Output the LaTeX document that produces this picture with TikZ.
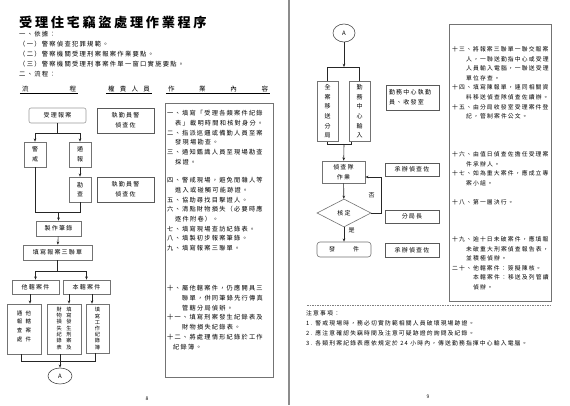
\documentclass[tikz,border=0pt]{standalone}
\usepackage{fontspec}
\setmainfont{Noto Sans CJK TC}
\newfontfamily\cjk{Noto Sans CJK TC}[LetterSpace=20]
\usetikzlibrary{
  arrows.meta,
  positioning,
  shapes.geometric,
  calc
}

\tikzset{
  flowbox/.style={draw=black!55, line width=0.6pt, inner sep=0pt, align=center,
    font=\cjk\fontsize{6}{9.6}\selectfont},
  dutybox/.style={draw=black!65, line width=0.9pt, inner sep=0pt, align=center,
    font=\cjk\fontsize{6}{9.6}\selectfont},
  workbox/.style={draw=black!55, line width=0.6pt, inner sep=0pt},
  stepblock/.style={inner sep=0pt, anchor=north west, align=left,
    font=\cjk\fontsize{6.2}{9.7}\selectfont},
  rightblock/.style={inner sep=0pt, anchor=north west, align=left,
    font=\cjk\fontsize{5.8}{9.6}\selectfont},
  headline/.style={inner xsep=2pt, inner ysep=0.6pt, font=\cjk\fontsize{6.5}{6.5}\selectfont}
}

\begin{document}
\begin{tikzpicture}[x=1pt, y=-1pt]
\useasboundingbox (0,0) rectangle (570,405);
\fill[white] (0,0) rectangle (570,405);

% gutter between the two pages
\fill[black!45] (287.5,0) rectangle (290,405);

% -------------------------
% Page 8: heading
% -------------------------
\node[anchor=west, inner sep=0pt, font=\cjk\bfseries\fontsize{13.2}{13.2}\selectfont]
  (title) at (19,22) {受理住宅竊盜處理作業程序};
\node[stepblock, font=\cjk\fontsize{6.3}{10}\selectfont] (basis) at (19,31.2)
  {一、依據：\\（一）警察偵查犯罪規範。\\（二）警察機關受理刑案報案作業要點。\\
   （三）警察機關受理刑事案件單一窗口實施要點。\\二、流程：};

\node[headline] (hflow)    at (49,89)    {\makebox[54pt][s]{流\hfill 程}};
\node[headline] (hduty)    at (129,89)   {\makebox[42pt][s]{權\hfill 責\hfill 人\hfill 員}};
\node[headline] (hcontent) at (218,89)   {\makebox[100pt][s]{作\hfill 業\hfill 內\hfill 容}};
\foreach \h in {hflow, hduty, hcontent}
  \draw[line width=0.5pt] (\h.south west) -- (\h.south east);

% -------------------------
% Page 8: nodes
% -------------------------
\node[flowbox, draw=black!40, rounded corners=2pt, minimum width=57, minimum height=15]
  (recv) at (57.5,115.5) {受理報案};
\node[dutybox, minimum width=57, minimum height=25] (duty1) at (125.5,120.5) {執勤員警\\偵查佐};

\begin{scope}[every node/.append style={font=\cjk\fontsize{6}{11}\selectfont}]
\node[flowbox, minimum width=22, minimum height=25] (guard)  at (35,154.5) {警\\戒};
\node[flowbox, minimum width=22, minimum height=25] (notify) at (80,154.5) {通\\報};
\node[flowbox, minimum width=22, minimum height=25] (survey) at (80,189.5) {勘\\查};
\end{scope}
\node[dutybox, minimum width=57, minimum height=25] (duty2) at (125.5,189.5) {執勤員警\\偵查佐};

\node[flowbox, minimum width=45, minimum height=15] (record) at (58.5,228.5) {製作筆錄};
\node[flowbox, minimum width=69, minimum height=15] (form)   at (57.5,252.5) {填寫報案三聯單};
\node[flowbox, minimum width=47, minimum height=14] (other)  at (35.5,287)   {他轄案件};
\node[flowbox, minimum width=47, minimum height=14] (local)  at (86.5,287)   {本轄案件};

\node[flowbox, minimum width=34, minimum height=50] (otherbox) at (24,329) {};
\node[inner sep=0pt, anchor=north, font=\cjk\fontsize{5.5}{8.8}\selectfont]
  (othertext) at ([yshift=-5pt]otherbox.north)
  {\begin{tabular}{@{}c@{\hspace{3.4pt}}c@{}}通&他\\報&轄\\查&案\\處&件\end{tabular}};
\node[flowbox, minimum width=34, minimum height=50, font=\cjk\fontsize{5.2}{6.3}\selectfont]
  (lossbox) at (64,329)
  {\begin{tabular}{@{}c@{\hspace{4.6pt}}c@{}}財&填\\物&寫\\損&發\\失&生\\紀&刑\\錄&案\\表&及\end{tabular}};
\node[flowbox, minimum width=23, minimum height=49, font=\cjk\fontsize{5.2}{6.2}\selectfont]
  (logbox) at (97.5,328.5) {填\\寫\\工\\作\\紀\\錄\\簿};

\node[draw=black!70, line width=0.6pt, ellipse, minimum width=24, minimum height=16, inner sep=0pt,
  font=\fontsize{6}{6}\selectfont] (circA) at (60,376) {A};

% work content, page 8
\node[workbox, minimum width=108, minimum height=274] (workleft) at (219,240) {};
\node[stepblock] (stepA) at (167,110.3)
  {一、填寫「受理各類案件紀錄\\\hspace*{8pt}表」載明時間和核對身分。\\
   二、指派巡邏或備勤人員至案\\\hspace*{8pt}發現場勘查。\\
   三、通知鑑識人員至現場勘查\\\hspace*{8pt}採證。};
\node[stepblock] (stepB) at (167,177.3)
  {四、警戒現場，避免閒雜人等\\\hspace*{8pt}進入或碰觸可能跡證。\\
   五、協助尋找目擊證人。\\
   六、清點財物損失（必要時應\\\hspace*{8pt}逐件附卷）。\\
   七、填寫現場查訪紀錄表。\\
   八、填製初步報案筆錄。\\
   九、填寫報案三聯單。};
\node[stepblock] (stepC) at (167,285.3)
  {十、屬他轄案件，仍應開具三\\\hspace*{15pt}聯單，併同筆錄先行傳真\\\hspace*{15pt}管轄分局偵辦。\\
   十一、填寫刑案發生紀錄表及\\\hspace*{15pt}財物損失紀錄表。\\
   十二、將處理情形紀錄於工作\\\hspace*{6pt}紀錄簿。};

\node[inner sep=0pt, font=\fontsize{5}{5}\selectfont] (page8) at (147,399) {8};

% -------------------------
% Page 9: nodes
% -------------------------
\node[draw=black!70, line width=0.6pt, ellipse, minimum width=22, minimum height=18, inner sep=0pt,
  font=\fontsize{6}{6}\selectfont] (circB) at (344,33) {A};

\begin{scope}[every node/.append style={font=\cjk\fontsize{6}{9.8}\selectfont}]
\node[flowbox, minimum width=21, minimum height=60] (transfer) at (327.5,111.5) {全\\案\\移\\送\\分\\局};
\node[flowbox, minimum width=21, minimum height=60] (input)    at (359.5,111.5) {勤\\務\\中\\心\\輸\\入};
\end{scope}
\node[dutybox, text width=47pt, inner xsep=3pt, align=left, font=\cjk\fontsize{6}{10}\selectfont,
  minimum height=25] (duty3) at (412.5,97.5) {勤務中心執勤\\員、收發室};

\node[flowbox, minimum width=43, minimum height=22] (squad) at (343.5,172) {偵查隊\\作業};
\node[dutybox, minimum width=54, minimum height=13] (duty4) at (412,169.5) {承辦偵查佐};

\node[flowbox, diamond, aspect=1.93, minimum width=54, minimum height=28] (approve) at (344,213) {核定};
\node[dutybox, minimum width=54, minimum height=13] (chief) at (412,216.5) {分局長};

\node[flowbox, rounded corners=3pt, minimum width=54, minimum height=15] (dispatch) at (344,249.5)
  {發\hspace{18pt}件};
\node[dutybox, minimum width=54, minimum height=14] (duty5) at (412,250) {承辦偵查佐};

% work content, page 9
\node[workbox, minimum width=102, minimum height=277] (workright) at (500,162.5) {};
\node[rightblock] (stepD) at (452,46.4)
  {十三、將報案三聯單一聯交報案\\\hspace*{14pt}人，一聯送勤指中心或受理\\
   \hspace*{14pt}人員輸入電腦，一聯送受理\\\hspace*{14pt}單位存查。\\
   十四、填寫陳報單，連同相關資\\\hspace*{14pt}料移送偵查隊偵查佐續辦。\\
   十五、由分局收發室受理案件登\\\hspace*{14pt}記，管制案件公文。};
\node[rightblock] (stepE) at (452,151.4)
  {十六、由值日偵查佐擔任受理案\\\hspace*{14pt}件承辦人。\\
   十七、如為重大案件，應成立專\\\hspace*{14pt}案小組。};
\node[rightblock] (stepF) at (452,199.4) {十八、第一層決行。};
\node[rightblock, font=\cjk\fontsize{5.8}{9.5}\selectfont] (stepG) at (452,236.4)
  {十九、逾十日未破案件，應填報\\\hspace*{14pt}未破重大刑案偵查報告表，\\\hspace*{14pt}並積極偵辦。\\
   二十、他轄案件：簽擬陳核。\\\hspace*{21pt}本轄案件：移送及列管續\\\hspace*{21pt}偵辦。};

% notes
\draw[black!50, line width=0.4pt, dash pattern=on 1.5pt off 1pt] (307,305) -- (551,305);
\node[rightblock, font=\cjk\fontsize{5.8}{10}\selectfont] (notes) at (306,310.4)
  {注意事項：\\
   1. 警戒現場時，務必切實防範相關人員破壞現場跡證。\\
   2. 應注意確認失竊時間及注意可疑跡證的詢問及紀錄。\\
   3. 各類刑案紀錄表應依規定於 24 小時內，傳送勤務指揮中心輸入電腦。};

\node[inner sep=0pt, font=\fontsize{5}{5}\selectfont] (page9) at (428,397) {9};

% -------------------------
% Edges
% -------------------------
\begin{scope}[line width=0.6pt, black!85, >={Stealth[length=3.2pt, width=2.6pt]}]
% page 8
\coordinate (j1) at (57.5,133);
\draw (recv) -- (j1);
\draw[->] (j1) -| (guard);
\draw[->] (j1) -| (notify);
\path [->] (notify) edge (survey);

\coordinate (j2) at (58.5,212);
\draw (guard) |- (j2);
\draw (survey) |- (j2);
\path [->] (j2) edge (record);
\path [->] (record) edge (form);

\coordinate (j3) at (57.5,271);
\draw (form) -- (j3);
\draw[->] (j3) -| (other);
\draw[->] (j3) -| (local);

\draw[->] ([xshift=-5.5pt]other.south) -- ([xshift=6pt]otherbox.north);
\draw[->] ([xshift=-17.5pt]local.south) -- ([xshift=5pt]lossbox.north);
\draw[->] ([xshift=5.5pt]local.south) -- ([xshift=-5.5pt]logbox.north);

\coordinate (j4) at (60,361);
\draw ([xshift=-3pt]otherbox.south) |- (j4);
\draw ([xshift=-4pt]lossbox.south) -- (j4);
\draw ([xshift=-2.5pt]logbox.south) |- (j4);
\path [->] (j4) edge (circA);

% page 9
\coordinate (j5) at (344,67);
\path [->] (circB) edge (j5);
\draw (j5) -| (transfer);
\draw (j5) -| (input);

\coordinate (j6) at (344,144);
\draw (transfer) |- (j6);
\draw ([xshift=-8pt]input.south) |- (j6);
\path [->] (j6) edge (squad);
\path [->] (squad) edge (approve);

\draw[->] (approve.east) -- ++(10,0)
  |- node[pos=0.25, left=3pt, font=\cjk\fontsize{6}{6}\selectfont, text=black] {否}
  ([yshift=-5pt]squad.east);
\path [->] (approve) edge node[pos=0.2, right=1pt, font=\cjk\fontsize{6}{6}\selectfont, text=black] {是} (dispatch);
\end{scope}

\end{tikzpicture}
\end{document}
